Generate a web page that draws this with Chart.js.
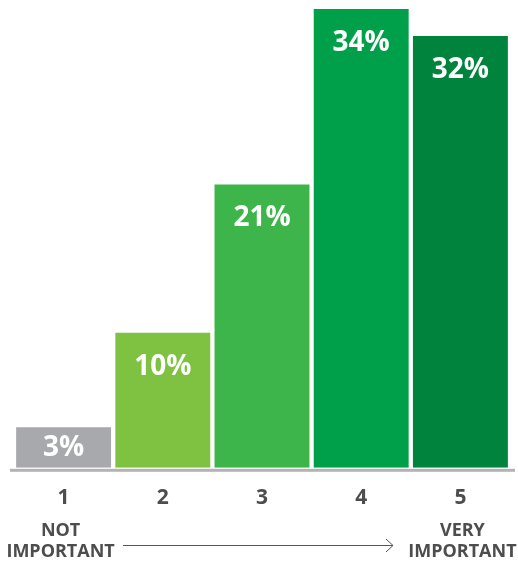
<!DOCTYPE html>
<html>
<head>
<meta charset="utf-8">
<script src="https://cdn.jsdelivr.net/npm/chart.js@4.4.0/dist/chart.umd.min.js"></script>
<style>
  body { margin: 0; background: #fff; }
  #wrap { width: 518px; height: 562px; }
</style>
</head>
<body>
<div id="wrap"><canvas id="importanceChart"></canvas></div>
<script>
// Rating scale 1..5 and share of responses (%)
const ratings = ['1', '2', '3', '4', '5'];
const shares = [3, 10, 21, 34, 32];
const barColors = ['#a7a9ac', '#7fc241', '#3db54a', '#00a04a', '#00843d'];
const lowLabel = ['NOT', 'IMPORTANT'];
const highLabel = ['VERY', 'IMPORTANT'];

const FONT = '"Open Sans", "DejaVu Sans", sans-serif';

// draws the % inside each bar, the baseline and the scale caption
const decorations = {
  id: 'decorations',
  afterDatasetsDraw(chart) {
    const ctx = chart.ctx;
    const meta = chart.getDatasetMeta(0);
    const area = chart.chartArea;

    ctx.save();
    // baseline
    ctx.fillStyle = '#b3b3b3';
    ctx.fillRect(10, area.bottom + 1, 505, 3);

    // values inside bars
    ctx.fillStyle = '#ffffff';
    ctx.font = 'bold 28px ' + FONT;
    ctx.textAlign = 'center';
    ctx.textBaseline = 'middle';
    meta.data.forEach((bar, i) => {
      const h = bar.base - bar.y;
      const offset = h < 60 ? h / 2 : 34;
      ctx.fillText(shares[i] + '%', bar.x, bar.y + offset);
    });

    // caption under the scale
    ctx.fillStyle = '#4d4d4d';
    ctx.font = 'bold 18px ' + FONT;
    const first = meta.data[0].x;
    const last = meta.data[meta.data.length - 1].x;
    ctx.fillText(lowLabel[0], first - 3, 531);
    ctx.fillText(lowLabel[1], first - 3, 552);
    ctx.fillText(highLabel[0], last + 2, 531);
    ctx.fillText(highLabel[1], last + 2, 552);

    // arrow
    ctx.strokeStyle = '#555';
    ctx.lineWidth = 1;
    ctx.beginPath();
    ctx.moveTo(123, 545.5);
    ctx.lineTo(393, 545.5);
    ctx.moveTo(386, 539);
    ctx.lineTo(393, 545.5);
    ctx.lineTo(386, 552);
    ctx.stroke();
    ctx.restore();
  }
};

new Chart(document.getElementById('importanceChart'), {
  type: 'bar',
  data: {
    labels: ratings,
    datasets: [{
      data: shares,
      backgroundColor: barColors,
      borderWidth: 0,
      barPercentage: 0.957,
      categoryPercentage: 1
    }]
  },
  options: {
    responsive: true,
    maintainAspectRatio: false,
    animation: false,
    layout: { padding: { left: 14, right: 8, top: 9, bottom: 33 } },
    plugins: {
      legend: { display: false },
      tooltip: { enabled: false }
    },
    scales: {
      x: {
        grid: { display: false, drawTicks: false },
        border: { display: false },
        ticks: {
          padding: 18,
          color: '#4d4d4d',
          font: { family: FONT, size: 21, weight: 'bold' }
        }
      },
      y: {
        display: false,
        min: 0,
        max: 34
      }
    }
  },
  plugins: [decorations]
});
</script>
</body>
</html>
